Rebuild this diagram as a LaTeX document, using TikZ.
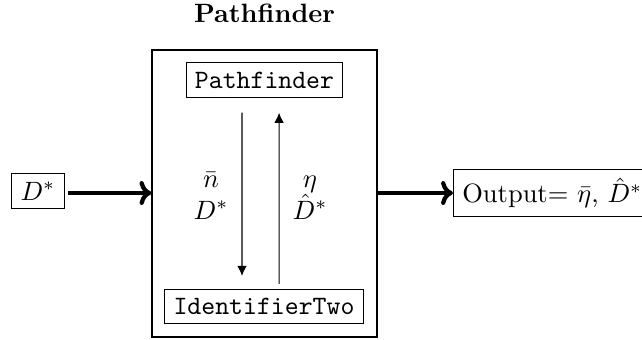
\documentclass[tikz,border=0pt]{standalone}
\usetikzlibrary{arrows.meta}
\begin{document}
\begin{tikzpicture}[x=0.3774pt,y=-0.3774pt,
  box/.style={draw, inner sep=3.33pt},
  flow/.style={-{To[length=4.5pt,width=9pt]}, line width=1.6pt},
  link/.style={-{Latex[length=3.8pt,width=3.6pt]}}]
\useasboundingbox (0,0) rectangle (642,339);
% heading and outer frame
\node[font=\bfseries] (title) at (264.5,13) {Pathfinder};
\node[draw, minimum width=84.9pt, minimum height=108.3pt] (frame) at (264.5,193.5) {};
% inner modules
\node[box, font=\ttfamily] (pf) at (264.5,80) {Pathfinder};
\node[box, font=\ttfamily] (id) at (264,306.5) {IdentifierTwo};
% input and output
\node[box] (din) at (38,191) {$D^*$};
\node[box, anchor=west] (out) at (453,193) {Output= $\bar\eta$, $\hat D^*$};
% exchange between the modules
\draw[link] ([xshift=-8.5pt,yshift=-5.7pt]pf.south) -- ([xshift=-8.3pt,yshift=4.9pt]id.north);
\draw[link] ([xshift=5.7pt,yshift=1.9pt]id.north) -- ([xshift=5.5pt,yshift=-5.7pt]pf.south);
\node[align=center] (ldown) at (211,196) {$\bar n$\\$D^*$};
\node[align=center] (lup) at (310,198) {$\eta$\\$\hat D^*$};
% main flow
\draw[flow, shorten <=1.2pt] (din.east |- 0,193) -- (frame.west |- 0,193);
\draw[flow] (frame.east |- out.west) -- (out.west);
\end{tikzpicture}
\end{document}
